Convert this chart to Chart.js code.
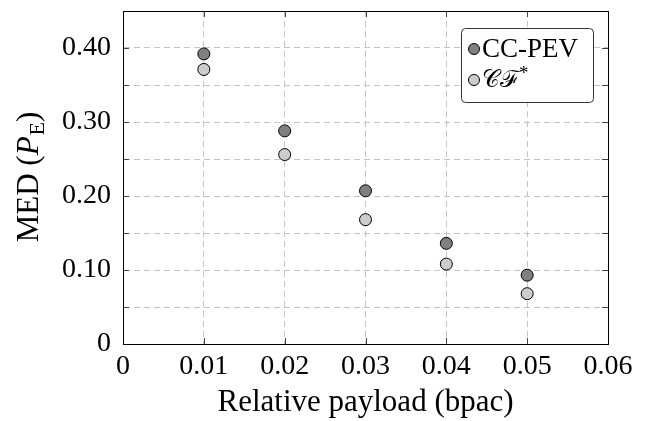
<!DOCTYPE html>
<html>
<head>
<meta charset="utf-8">
<script src="https://cdn.jsdelivr.net/npm/chart.js@4"></script>
<style>
  body { margin: 0; background: #fff; }
  #wrap { width: 645px; height: 421px; }
</style>
</head>
<body>
<div id="wrap"><canvas id="graph-med"></canvas></div>
<script>
// Données
const payloads = [0.01, 0.02, 0.03, 0.04, 0.05];
const medCCPEV = [0.392, 0.288, 0.207, 0.136, 0.093];
const medCF = [0.371, 0.256, 0.168, 0.108, 0.068];
const xTicks = [0, 0.01, 0.02, 0.03, 0.04, 0.05, 0.06];
const yTicks = [0, 0.05, 0.10, 0.15, 0.20, 0.25, 0.30, 0.35, 0.40, 0.45];

const FONT = '"Liberation Serif", "DejaVu Serif", serif';
const TICK_SIZE = 28;
const TITLE_SIZE = 31;
const LEGEND_SIZE = 27;

function points(ys) {
  return payloads.map((x, i) => ({ x: x, y: ys[i] }));
}

// ticks intérieurs sur les quatre côtés (style pgfplots)
const innerTicks = {
  id: 'innerTicks',
  afterDatasetsDraw(chart) {
    const { ctx, chartArea: a, scales } = chart;
    ctx.save();
    ctx.strokeStyle = '#444';
    ctx.lineWidth = 1;
    ctx.beginPath();
    xTicks.forEach(v => {
      const px = Math.round(scales.x.getPixelForValue(v)) + 0.5;
      ctx.moveTo(px, a.bottom); ctx.lineTo(px, a.bottom - 6);
      ctx.moveTo(px, a.top); ctx.lineTo(px, a.top + 6);
    });
    yTicks.forEach(v => {
      const py = Math.round(scales.y.getPixelForValue(v)) + 0.5;
      ctx.moveTo(a.left, py); ctx.lineTo(a.left + 6, py);
      ctx.moveTo(a.right, py); ctx.lineTo(a.right - 6, py);
    });
    ctx.stroke();
    ctx.restore();
  }
};

// titre de l'axe y et légende dans le cadre
const annotations = {
  id: 'annotations',
  afterDraw(chart) {
    const { ctx, chartArea: a } = chart;
    ctx.save();

    // MED (P_E)
    const parts = [
      { t: 'MED (', f: TITLE_SIZE + 'px ' + FONT, dy: 0 },
      { t: 'P', f: 'italic ' + TITLE_SIZE + 'px ' + FONT, dy: 0 },
      { t: 'E', f: Math.round(TITLE_SIZE * 0.7) + 'px ' + FONT, dy: 6 },
      { t: ')', f: TITLE_SIZE + 'px ' + FONT, dy: 0 }
    ];
    let total = 0;
    parts.forEach(p => { ctx.font = p.f; p.w = ctx.measureText(p.t).width; total += p.w; });
    ctx.translate(38, (a.top + a.bottom) / 2);
    ctx.rotate(-Math.PI / 2);
    ctx.fillStyle = '#000';
    ctx.textBaseline = 'alphabetic';
    let cx = -total / 2;
    parts.forEach(p => {
      ctx.font = p.f;
      ctx.fillText(p.t, cx, p.dy);
      cx += p.w + (p.t === 'P' ? 1 : 0);
    });
    ctx.setTransform(1, 0, 0, 1, 0, 0);

    // légende
    const bx = a.right - 147, by = a.top + 17, bw = 132, bh = 74;
    ctx.beginPath();
    ctx.roundRect(bx + 0.5, by + 0.5, bw, bh, 4);
    ctx.fillStyle = '#fff';
    ctx.fill();
    ctx.strokeStyle = '#333';
    ctx.lineWidth = 1;
    ctx.stroke();

    chart.data.datasets.forEach((ds, i) => {
      const cy = by + 21 + i * 31;
      ctx.beginPath();
      ctx.arc(bx + 13, cy, 5.5, 0, Math.PI * 2);
      ctx.fillStyle = ds.backgroundColor;
      ctx.fill();
      ctx.strokeStyle = '#000';
      ctx.stroke();
      ctx.fillStyle = '#000';
      ctx.textBaseline = 'middle';
      if (i === 0) {
        ctx.font = LEGEND_SIZE + 'px ' + FONT;
        ctx.fillText(ds.label, bx + 21, cy + 1);
      } else {
        ctx.font = (LEGEND_SIZE - 3) + 'px ' + FONT;
        ctx.fillText('𝒞ℱ', bx + 21, cy + 1);
        const w = ctx.measureText('𝒞ℱ').width;
        ctx.font = Math.round(LEGEND_SIZE * 0.7) + 'px ' + FONT;
        ctx.fillText('*', bx + 22 + w, cy - 6);
      }
    });

    ctx.restore();
  }
};

const ctx = document.getElementById('graph-med').getContext('2d');
window.medChart = new Chart(ctx, {
  type: 'scatter',
  data: {
    datasets: [
      {
        label: 'CC-PEV',
        data: points(medCCPEV),
        backgroundColor: '#808080',
        borderColor: '#000',
        borderWidth: 1,
        pointRadius: 6,
        pointHoverRadius: 6
      },
      {
        label: 'CF*',
        data: points(medCF),
        backgroundColor: '#cccccc',
        borderColor: '#000',
        borderWidth: 1,
        pointRadius: 6,
        pointHoverRadius: 6
      }
    ]
  },
  options: {
    responsive: true,
    maintainAspectRatio: false,
    animation: false,
    layout: { padding: { left: 0, right: 37, top: 11, bottom: 0 } },
    plugins: {
      legend: { display: false },
      tooltip: { enabled: false }
    },
    scales: {
      x: {
        type: 'linear',
        min: 0,
        max: 0.06,
        afterFit: s => { s.height = 77; s.paddingLeft = 0; s.paddingRight = 0; },
        afterBuildTicks: s => { s.ticks = xTicks.map(v => ({ value: v })); },
        grid: { color: '#c4c4c4', drawTicks: false },
        border: { display: true, color: '#000', width: 1, dash: [6, 4] },
        ticks: {
          padding: 6,
          color: '#000',
          font: { family: FONT, size: TICK_SIZE },
          callback: v => v === 0 ? '0' : v.toFixed(2)
        },
        title: { display: true, text: 'Relative payload (bpac)', color: '#000', font: { family: FONT, size: TITLE_SIZE }, padding: { top: 0, bottom: 0 } }
      },
      y: {
        type: 'linear',
        min: 0,
        max: 0.45,
        afterFit: s => { s.width = 123; s.paddingTop = 0; s.paddingBottom = 0; },
        afterBuildTicks: s => { s.ticks = yTicks.map(v => ({ value: v })); },
        grid: { color: '#c4c4c4', drawTicks: false },
        border: { display: true, color: '#000', width: 1, dash: [6, 4] },
        ticks: {
          padding: 12,
          color: '#000',
          font: { family: FONT, size: TICK_SIZE },
          callback: v => {
            const r = Math.round(v * 100);
            if (r === 0) return '0';
            return r % 10 === 0 ? (r / 100).toFixed(2) : '';
          }
        }
      }
    }
  },
  plugins: [innerTicks, annotations, {
    id: 'frame',
    afterDatasetsDraw(chart) {
      const { ctx, chartArea: a } = chart;
      ctx.save();
      ctx.strokeStyle = '#000';
      ctx.lineWidth = 1;
      ctx.strokeRect(Math.round(a.left) + 0.5, Math.round(a.top) + 0.5, Math.round(a.right - a.left), Math.round(a.bottom - a.top));
      ctx.restore();
    }
  }]
});
</script>
</body>
</html>
